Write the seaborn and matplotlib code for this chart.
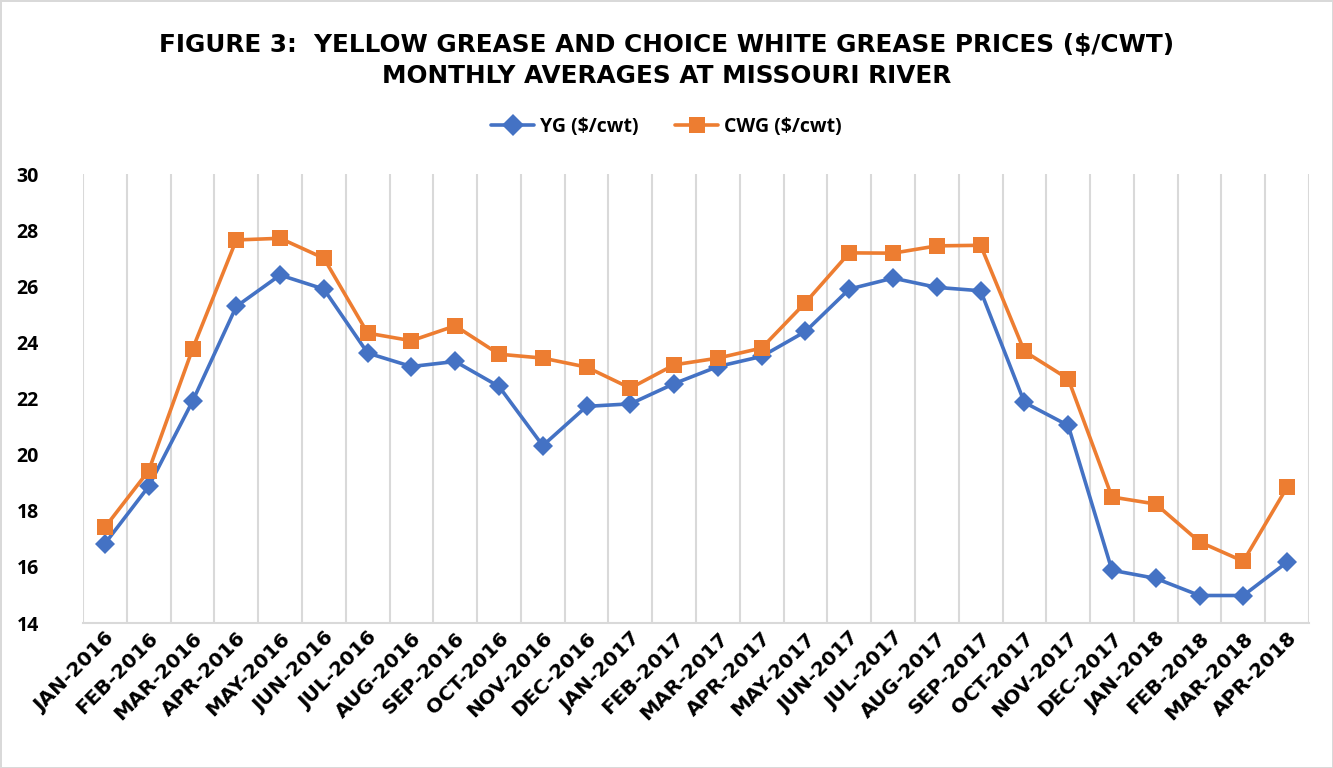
import numpy as np
import pandas as pd
import matplotlib
matplotlib.use("Agg")
import matplotlib.pyplot as plt
import seaborn as sns

# Monthly averages at Missouri River ($/cwt)
months = ["JAN-2016", "FEB-2016", "MAR-2016", "APR-2016", "MAY-2016", "JUN-2016",
          "JUL-2016", "AUG-2016", "SEP-2016", "OCT-2016", "NOV-2016", "DEC-2016",
          "JAN-2017", "FEB-2017", "MAR-2017", "APR-2017", "MAY-2017", "JUN-2017",
          "JUL-2017", "AUG-2017", "SEP-2017", "OCT-2017", "NOV-2017", "DEC-2017",
          "JAN-2018", "FEB-2018", "MAR-2018", "APR-2018"]
yg = [16.83, 18.87, 21.90, 25.28, 26.40, 25.90, 23.62, 23.14, 23.32, 22.43,
      20.32, 21.72, 21.81, 22.53, 23.14, 23.50, 24.39, 25.90, 26.29, 25.96,
      25.84, 21.86, 21.04, 15.88, 15.59, 14.98, 14.98, 16.17]
cwg = [17.41, 19.43, 23.76, 27.65, 27.71, 27.00, 24.33, 24.06, 24.59, 23.58,
       23.44, 23.12, 22.37, 23.20, 23.44, 23.80, 25.42, 27.19, 27.18, 27.44,
       27.46, 23.68, 22.70, 18.49, 18.24, 16.89, 16.20, 18.84]
series_names = ["YG ($/cwt)", "CWG ($/cwt)"]

df = pd.DataFrame({"Month": months * 2,
                   "Price": yg + cwg,
                   "Series": [series_names[0]] * len(months) + [series_names[1]] * len(months)})

sns.set_style("white")
plt.rcParams["font.family"] = ["Open Sans", "DejaVu Sans"]
plt.rcParams["text.color"] = "black"
plt.rcParams["xtick.color"] = "black"
plt.rcParams["ytick.color"] = "black"

fig = plt.figure(figsize=(13.33, 7.68), dpi=100)
fig.patch.set_edgecolor("#d9d9d9")
fig.patch.set_linewidth(2)
ax = fig.add_axes([0.0623, 0.1888, 0.9197, 0.5846])

palette = {series_names[0]: "#4472C4", series_names[1]: "#ED7D31"}
sns.lineplot(data=df, x="Month", y="Price", hue="Series", style="Series",
             markers={series_names[0]: "D", series_names[1]: "s"},
             dashes=False, palette=palette, linewidth=2.6, markersize=10,
             markeredgewidth=0, sort=False, ax=ax)
# squares a touch larger than diamonds, as in the original
for line in ax.get_lines():
    if line.get_marker() == "s":
        line.set_markersize(11)

ax.set_xlim(-0.5, len(months) - 0.5)
ax.set_ylim(14, 30)
ax.set_yticks(range(14, 31, 2))
ax.set_xticks(np.arange(-0.5, len(months), 1.0), minor=True)
ax.grid(True, which="minor", axis="x", color="#d9d9d9", linewidth=1.5)
ax.grid(False, which="major")
ax.tick_params(axis="x", which="both", length=0, pad=4)
ax.tick_params(axis="y", length=0, pad=48)
for s in ["top", "right", "left"]:
    ax.spines[s].set_visible(False)
ax.spines["bottom"].set_color("#d9d9d9")
ax.spines["bottom"].set_linewidth(1.5)

ax.set_xticks(range(len(months)))
ax.set_xticklabels(months, rotation=45, ha="right", rotation_mode="anchor",
                   fontsize=14.5, fontweight="bold", family="DejaVu Sans")
for lbl in ax.get_yticklabels():
    lbl.set_fontsize(14)
    lbl.set_fontweight("bold")
    lbl.set_horizontalalignment("left")
ax.set_xlabel("")
ax.set_ylabel("")

handles, labels = ax.get_legend_handles_labels()
for h in handles:
    h.set_markersize(11)
fig.legend(handles, labels, loc="center", bbox_to_anchor=(0.5, 0.835), ncol=2,
           frameon=False, prop={"weight": "bold", "size": 14}, handlelength=2.2,
           columnspacing=1.9, handletextpad=0.3)
ax.get_legend().remove()

fig.text(0.5, 0.941, "FIGURE 3:  YELLOW GREASE AND CHOICE WHITE GREASE PRICES ($/CWT)",
         ha="center", va="center", fontsize=17.8, fontweight="bold", family="DejaVu Sans")
fig.text(0.5, 0.901, "MONTHLY AVERAGES AT MISSOURI RIVER",
         ha="center", va="center", fontsize=17.8, fontweight="bold", family="DejaVu Sans")

fig.savefig("out.png", dpi=100, edgecolor=fig.get_edgecolor())
